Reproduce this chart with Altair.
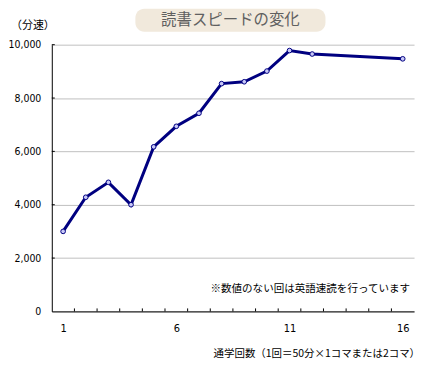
import altair as alt
import pandas as pd

sessions = [1, 2, 3, 4, 5, 6, 7, 8, 9, 10, 11, 12, 16]
speeds = [3000, 4280, 4840, 4000, 6170, 6940, 7430, 8540, 8610, 9010, 9780, 9650, 9470]
x_labels = [1, 6, 11, 16]
y_ticks = [0, 2000, 4000, 6000, 8000, 10000]
x_minor = [1.5, 2.5, 3.5, 4.5, 5.5, 6.5, 7.5, 8.5, 9.5, 10.5, 11.5, 12.5, 13.5, 14.5, 15.5]

title_text = "読書スピードの変化"
unit_text = "（分速）"
x_title = "通学回数（1回＝50分×1コマまたは2コマ）"
note_text = "※数値のない回は英語速読を行っています"

W, H = 364, 268
JP = "Noto Sans CJK JP"
NUM = "Liberation Sans Narrow, DejaVu Sans Condensed, sans-serif"

df = pd.DataFrame({"n": sessions, "v": speeds})
one = alt.Data(values=[{}])

xs = alt.Scale(domain=[0.5, 16.5], nice=False, zero=False)
ys = alt.Scale(domain=[0, 10000], nice=False)

base = alt.Chart(df)

line = base.mark_line(color="#000080", strokeWidth=3).encode(
    x=alt.X("n:Q", scale=xs,
            axis=alt.Axis(values=x_labels, title=None, grid=False, tickSize=0,
                          labelPadding=11, labelFont=NUM, labelFontSize=11,
                          labelColor="#000", domainColor="#000")),
    y=alt.Y("v:Q", scale=ys,
            axis=alt.Axis(values=y_ticks, format=",.0f", title=None, grid=True,
                          gridColor="#c0c0c0", tickSize=0, labelPadding=11,
                          labelFont=NUM, labelFontSize=10.5, labelColor="#000",
                          domainColor="#000")),
)

pts = base.mark_point(shape="circle", filled=True, size=22, fill="#c8c8f8",
                      stroke="#000080", strokeWidth=1, opacity=1).encode(
    x=alt.X("n:Q", scale=xs), y=alt.Y("v:Q", scale=ys))

xt = alt.Chart(pd.DataFrame({"t": x_minor})).mark_rule(color="#000", strokeWidth=1).encode(
    x=alt.X("t:Q", scale=xs), y=alt.value(H), y2=alt.value(H - 3))

yt = alt.Chart(pd.DataFrame({"t": y_ticks[1:]})).mark_rule(color="#000", strokeWidth=1).encode(
    y=alt.Y("t:Q", scale=ys), x=alt.value(0), x2=alt.value(3))

box = alt.Chart(one).mark_rect(fill="#f1e9dc", cornerRadius=9).encode(
    x=alt.value(84), x2=alt.value(275), y=alt.value(-36), y2=alt.value(-13))

ttl = alt.Chart(one).mark_text(text=title_text, font=JP, fontSize=15.5, color="#606060",
                                align="center", baseline="middle").encode(
    x=alt.value(179.5), y=alt.value(-24.5))

unit = alt.Chart(one).mark_text(text=unit_text, font=JP, fontSize=11, color="#000",
                                 align="center", baseline="middle").encode(
    x=alt.value(-19), y=alt.value(-19))

xtt = alt.Chart(one).mark_text(text=x_title, font=JP, fontSize=10.5, color="#000",
                                align="right", baseline="middle").encode(
    x=alt.value(370), y=alt.value(311))

note = alt.Chart(one).mark_text(text=note_text, font=JP, fontSize=10.6, color="#000",
                                 align="right", baseline="middle").encode(
    x=alt.value(360), y=alt.value(245.5))

chart = alt.layer(box, ttl, unit, line, xt, yt, pts, note, xtt).properties(
    width=W, height=H,
    autosize=alt.AutoSizeParams(type="none"),
    padding={"left": 44, "top": 36, "right": 10, "bottom": 56},
).configure_view(stroke=None)

chart.save("out.html", embed_options={"renderer": "svg", "actions": False})
